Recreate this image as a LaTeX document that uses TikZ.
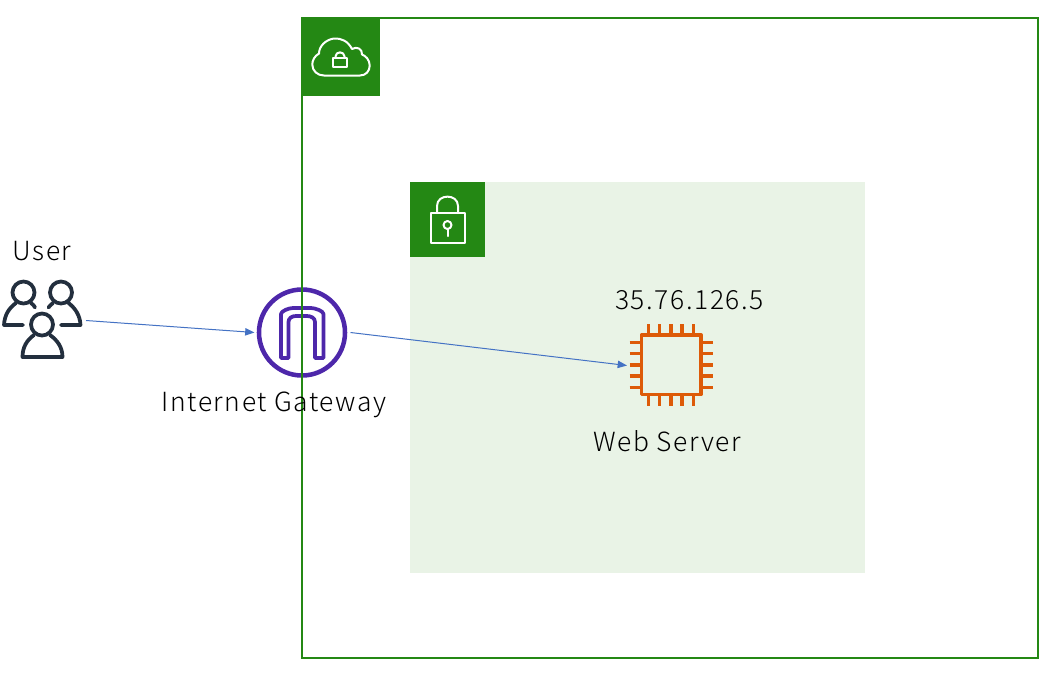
\documentclass[tikz,border=0pt]{standalone}
\usepackage{fontspec}
\setmainfont[LetterSpace=6]{Noto Sans CJK JP Light}
\usetikzlibrary{arrows.meta}
\definecolor{awsgreen}{HTML}{248814}
\definecolor{palegreen}{HTML}{E9F3E6}
\definecolor{gwpurple}{HTML}{4D27AA}
\definecolor{chiporange}{HTML}{DD5A08}
\definecolor{usernavy}{HTML}{232F3E}
\definecolor{linkblue}{HTML}{4472C4}
\tikzset{
  lbl/.style={font=\fontsize{19.8pt}{22pt}\selectfont, text=black, inner sep=0pt},
  anchorbox/.style={draw=none, inner sep=0pt, outer sep=0pt, shape=rectangle},
  link/.style={draw=linkblue, line width=0.75pt, -{Triangle[length=7pt,width=5.5pt]}},
  badge/.style={fill=awsgreen, draw=none},
  whiteicon/.style={draw=white, line width=1.5pt, line join=round, line cap=round},
  usericon/.style={draw=usernavy, line width=2.8pt, line cap=round, line join=round},
  gwicon/.style={draw=gwpurple, line width=2.8pt, line join=round},
  chipicon/.style={draw=chiporange, line width=2.9pt, line join=round},
  pin/.style={draw=chiporange, line width=2.6pt},
}
\begin{document}
\begin{tikzpicture}[x=0.75pt,y=-0.75pt]
\useasboundingbox (0,0) rectangle (1045,676);
\fill[white] (0,0) rectangle (1045,676);
% regions
\fill[palegreen] (410,182) rectangle (865,573);
% gateway icon
\draw[gwpurple, line width=3.4pt] (302,332.5) circle (43);
\draw[gwicon] (281,358) -- (281,314) .. controls (281,311) and (289,308) .. (293,308) -- (311,308) .. controls (315,308) and (323.5,311) .. (323.5,314) -- (323.5,358) -- (315,358) -- (315,322) .. controls (315,318) and (311,316) .. (307,316) -- (296,316) .. controls (292,316) and (288.5,318) .. (288.5,322) -- (288.5,358) -- cycle;
% frame and badges
\draw[awsgreen, line width=1.6pt] (302,18) rectangle (1038,658);
\fill[badge] (302,18) rectangle (380,96);
\fill[badge] (410,182) rectangle (485,257);
% cloud icon
\draw[whiteicon] (324,75.5) -- (360,75.5)
  .. controls (366,75.5) and (369.7,71) .. (369.7,65.5)
  .. controls (369.7,60) and (365.5,55.5) .. (362,54.5)
  .. controls (362.5,49) and (357,46) .. (352,49)
  .. controls (348,41) and (341,38) .. (334,38.5)
  .. controls (326,39.5) and (319,46) .. (319,53.5)
  .. controls (314.5,56) and (312.3,60.5) .. (312.3,64.5)
  .. controls (312.3,71) and (317.5,75.5) .. (324,75.5) -- cycle;
\draw[whiteicon] (333,58) rectangle (347,67);
\draw[whiteicon] (335.5,58) -- (335.5,56.5) .. controls (335.5,51) and (344.5,51) .. (344.5,56.5) -- (344.5,58);
% lock icon
\draw[whiteicon] (430.5,213) rectangle (465,243);
\draw[whiteicon] (437,213) -- (437,206) .. controls (437,193.5) and (458,193.5) .. (458,206) -- (458,213);
\draw[whiteicon] (447.5,225) circle (4);
\draw[whiteicon] (447.5,229) -- (447.5,236);
% user icon
\draw[usericon] (23.5,292.5) circle (11);
\draw[usericon] (61,292.5) circle (11);
\draw[usericon] (42,324.5) circle (11);
\draw[usericon] (23,325) -- (4,325) .. controls (4.5,315) and (9,308) .. (16,303);
\draw[usericon] (31,303) .. controls (33,304.5) and (34.5,306) .. (35,307.5);
\draw[usericon] (61,325) -- (80.5,325) .. controls (80,315) and (75,308) .. (68.5,303);
\draw[usericon] (53,303) .. controls (51,304.5) and (49.5,306) .. (48.5,307.5);
\draw[usericon] (34,335) .. controls (27,340) and (22.5,347) .. (22.5,357) -- (62.5,357) .. controls (62.5,347) and (57,340) .. (50,335);
% chip icon
\draw[chipicon] (641.5,335) rectangle (701,394.5);
\foreach \p in {648.3,659.7,671,682,693.3}{
  \draw[pin] (\p,324) -- (\p,335);
  \draw[pin] (\p,394.5) -- (\p,406);
}
\foreach \p in {342.3,353.7,365,376,387.3}{
  \draw[pin] (629.5,\p) -- (641.5,\p);
  \draw[pin] (701,\p) -- (712.5,\p);
}
% anchor nodes
\node[anchorbox, minimum width=62.25pt, minimum height=60pt] (user) at (44.5,320.5) {};
\node[anchorbox, minimum width=72pt, minimum height=72pt] (gateway) at (302.5,332.5) {};
\node[anchorbox, minimum width=66pt, minimum height=66pt] (server) at (671,365.5) {};
% labels
\node[lbl] (userlabel) at (42,251) {User};
\node[lbl] (gwlabel) at (274,404.5) {Internet Gateway};
\node[lbl] (iplabel) at (689.5,300) {35.76.126.5};
\node[lbl] (weblabel) at (667,441) {Web Server};
% connectors
\draw[link] (user.east) -- (gateway.west);
\draw[link] (gateway.east) -- (server.west);
\end{tikzpicture}
\end{document}
